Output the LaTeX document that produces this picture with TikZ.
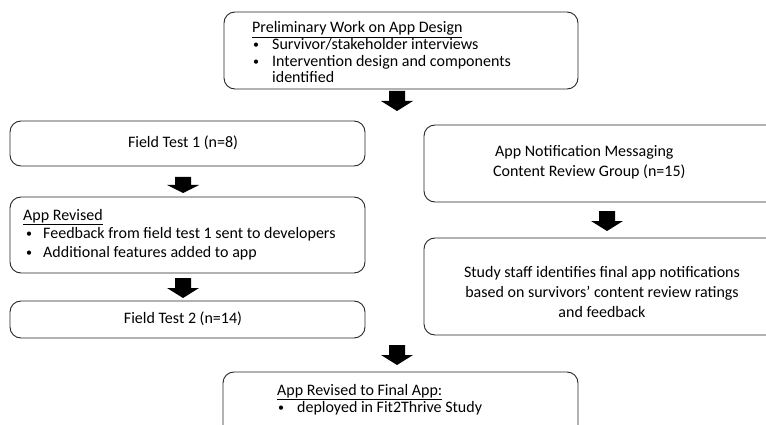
\documentclass[tikz,border=0pt]{standalone}
\usepackage{fontspec}
\setmainfont{Carlito}
\usetikzlibrary{calc}
\newcommand{\barrow}[3]{%
  \pgfmathsetmacro\ymid{(#2+#3)/2}%
  \fill[arrowfill] (#1-8,#2) -- (#1+8,#2) -- (#1+8,\ymid) -- (#1+16,\ymid) -- (#1,#3) -- (#1-16,\ymid) -- (#1-8,\ymid) -- cycle;}
\begin{document}
\begin{tikzpicture}[x=1pt,y=-1pt,
  box/.style={draw=black!85, line width=0.9pt, rounded corners=11pt, inner sep=0pt},
  txt/.style={anchor=base west, inner sep=0pt, font=\fontsize{16}{16.5}\selectfont},
  bul/.style={anchor=base west, inner sep=0pt, font=\fontsize{12}{12}\selectfont},
  ctxt/.style={anchor=center, inner sep=0pt, align=center, font=\fontsize{16}{20}\selectfont},
  arrowfill/.style={fill=black}]
\useasboundingbox (0,0) rectangle (766,425);
\clip (0,0) rectangle (766,425);
% boxes
\draw[box] (224,12) rectangle (578,89);
\draw[box] (10,121) rectangle (365,166);
\draw[box] (10,197) rectangle (365,273);
\draw[box] (10,301) rectangle (365,338);
\draw[box] (424,125) rectangle (790,202);
\draw[box] (424,238) rectangle (790,335);
\draw[box] (223,372) rectangle (578,440);
% top text
\node[txt] (t1) at (252,33) {\underline{Preliminary Work on App Design}};
\node[bul] (t2) at (253,49) {•};
\node[txt] (t3) at (272,50) {Survivor/stakeholder interviews};
\node[bul] (t4) at (253,65.5) {•};
\node[txt] (t5) at (272,66.5) {Intervention design and components};
\node[txt] (t6) at (272,83) {identified};
% field test 1
\node[ctxt] (f1) at (183,143) {Field Test 1 (n=8)};
% app revised
\node[txt] (a1) at (23,220) {\underline{App Revised}};
\node[bul] (a2) at (26,237.5) {•};
\node[txt] (a3) at (43,238.5) {Feedback from field test 1 sent to developers};
\node[bul] (a4) at (26,256) {•};
\node[txt] (a5) at (43,257) {Additional features added to app};
% field test 2
\node[ctxt] (f2) at (183,319) {Field Test 2 (n=14)};
% right top
\node[txt] (r1) at (495,157) {App Notification Messaging};
\node[txt] (r2) at (493,177) {Content Review Group (n=15)};
% right bottom
\node[ctxt] (r3) at (602,292) {Study staff identifies final app notifications\\based on survivors’ content review ratings\\and feedback};
% bottom
\node[txt] (b1) at (277,395) {\underline{App Revised to Final App:}};
\node[bul] (b2) at (278,411) {•};
\node[txt] (b3) at (297,412) {deployed in Fit2Thrive Study};
% block arrows
\barrow{397}{91}{111}
\barrow{183}{177}{193}
\barrow{183}{278}{298}
\barrow{607}{211}{231}
\barrow{397}{345}{365}
\end{tikzpicture}
\end{document}
